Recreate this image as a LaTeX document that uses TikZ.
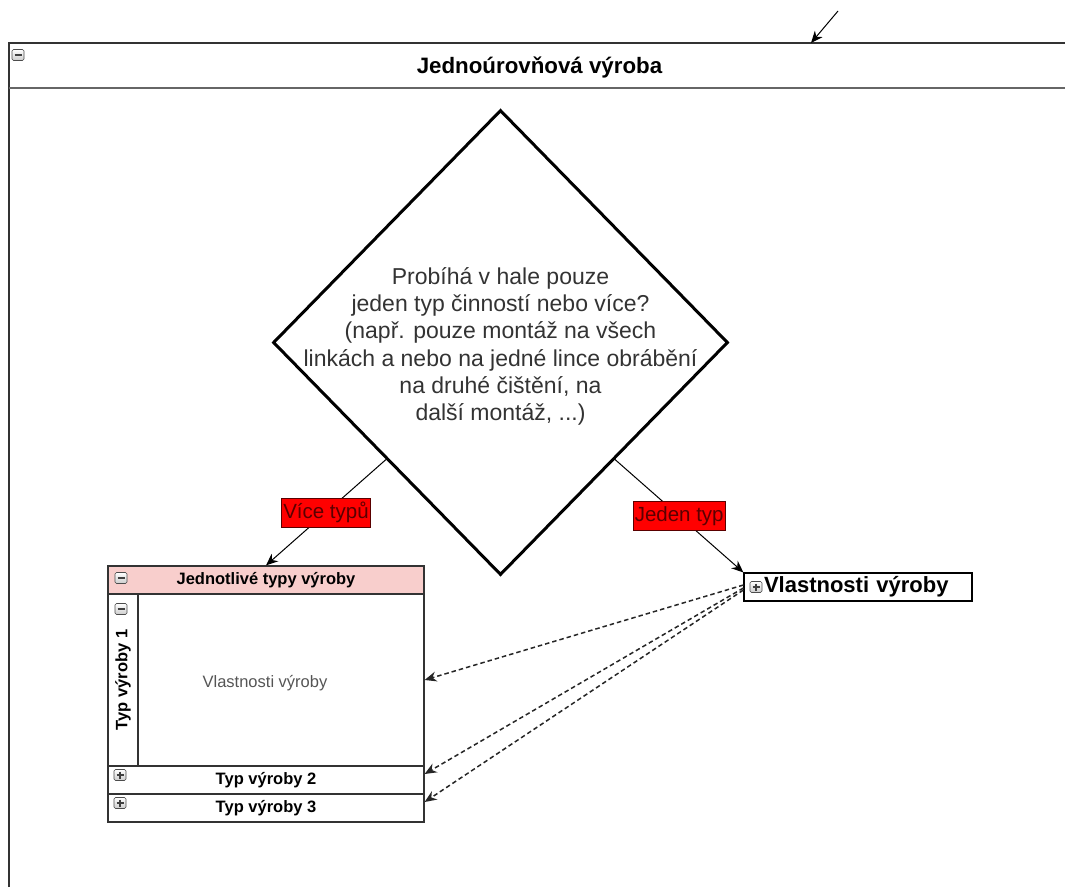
\documentclass[tikz,border=0pt]{standalone}
\usepackage{fontspec}
\setmainfont{Liberation Sans}
\usetikzlibrary{shapes.geometric,arrows.meta,calc}

\definecolor{edgegray}{HTML}{333333}
\definecolor{headpink}{HTML}{F8CECC}
\definecolor{labelred}{HTML}{FF0000}
\definecolor{labelink}{HTML}{5A0000}
\definecolor{softtext}{HTML}{555555}
\definecolor{bodytext}{HTML}{333333}
\newcommand{\fsz}[2]{\fontsize{#1}{#2}\selectfont}

\tikzset{
  frame/.style={draw=edgegray, line width=1.3pt},
  decision/.style={diamond, draw=black, line width=3pt, minimum width=455pt,
    minimum height=465pt, inner sep=0pt},
  qtextstyle/.style={align=center, text=bodytext, font=\fsz{23}{27.2}},
  lanebox/.style={draw=edgegray, line width=1.2pt, inner sep=0pt, minimum width=316pt},
  boldsmall/.style={font=\fsz{16.5}{18}\bfseries, text=black},
  lbl/.style={fill=labelred, draw=labelink, line width=0.8pt, text=labelink,
    font=\fsz{20.5}{22}, inner xsep=1.5pt, inner ysep=0pt, minimum height=29pt},
  arr/.style={-{Stealth[length=12pt,width=10pt]}, line width=1pt, draw=black},
  darr/.style={-{Stealth[length=12pt,width=10pt]}, line width=1.5pt, draw=black!85,
    dash pattern=on 4.5pt off 3pt},
  iconframe/.style={draw=gray!60!black, line width=0.6pt, rounded corners=1.5pt,
    top color=white, bottom color=gray!40},
  minusbox/.pic={\draw[iconframe] (-6,-5.5) rectangle (6,5.5);
    \draw[line width=1.3pt, black!75] (-3.5,0) -- (3.5,0);},
  plusbox/.pic={\draw[iconframe] (-6,-5.5) rectangle (6,5.5);
    \draw[line width=1.1pt, black!75] (-3.5,0) -- (3.5,0) (0,-3.5) -- (0,3.5);},
}

\begin{document}
\begin{tikzpicture}[x=1pt, y=-1pt]
\useasboundingbox (0,0) rectangle (1065,887);

% outer container
\coordinate (fBL) at (9,887);
\coordinate (fTL) at (9,43);
\coordinate (fTR) at (1065,43);
\coordinate (sL) at (9,88);
\coordinate (sR) at (1065,88);
\draw[frame] (fBL) -- (fTL) -- (fTR);
\draw[draw=gray!80!black, line width=1.8pt] (sL) -- (sR);
\node[font=\fsz{22.3}{24}\bfseries] (title) at (539.5,67) {Jednoúrovňová výroba};
\pic at (18,55) {minusbox};

% incoming arrow at the top
\coordinate (inA) at (838,11);
\coordinate (inB) at (811,43);
\draw[arr] (inA) -- (inB);

% decision
\node[decision] (q) at (500.5,342.5) {};
\node[qtextstyle] (qtext) at ([yshift=-4pt]q.center) {Probíhá v hale pouze\\jeden typ činností nebo více?\\(např. pouze montáž na všech\\linkách a nebo na jedné lince obrábění\\na druhé čištění, na\\další montáž, ...)};

% list of production types
\node[lanebox, fill=headpink, minimum height=28pt, boldsmall] (lhead) at (266,580) {Jednotlivé typy výroby};
\node[lanebox, minimum height=172pt] (lane1) at (266,680) {};
\node[draw=edgegray, line width=1.2pt, minimum width=30pt, minimum height=172pt, inner sep=0pt] (lane1col) at (123,680) {};
\node[boldsmall, rotate=90] (lane1name) at (123,680) {Typ výroby 1};
\node[font=\fsz{16.5}{18}, text=softtext] (lane1body) at (265,683) {Vlastnosti výroby};
\node[lanebox, minimum height=28pt, boldsmall] (row2) at (266,780) {Typ výroby 2};
\node[lanebox, minimum height=28pt, boldsmall] (row3) at (266,808) {Typ výroby 3};
\pic at (121,578) {minusbox};
\pic at (121,609) {minusbox};
\pic at (120,775) {plusbox};
\pic at (120,803) {plusbox};

% single-type properties
\node[draw=black, line width=1.2pt, minimum width=228pt, minimum height=28pt,
  text width=228pt, inner xsep=0pt, inner ysep=0pt, align=left,
  font=\fsz{22}{23}\bfseries] (props) at (858,587) {\hspace*{20pt}Vlastnosti výroby};
\pic at (756,587) {plusbox};

% decision branches
\draw[arr] ($(q.west)!0.5!(q.south)$) -- node[lbl] {Více typů} (lhead.north);
\draw[arr] ($(q.east)!0.5!(q.south)$) -- node[lbl] {Jeden typ} (props.north west);

% references to the properties
\draw[darr] ([yshift=2pt]props.west) -- (lane1.east);
\draw[darr] ([yshift=-1pt]props.west) -- ([yshift=6pt]row2.east);
\draw[darr] ([yshift=-3pt]props.west) -- ([yshift=6pt]row3.east);
\end{tikzpicture}
\end{document}
